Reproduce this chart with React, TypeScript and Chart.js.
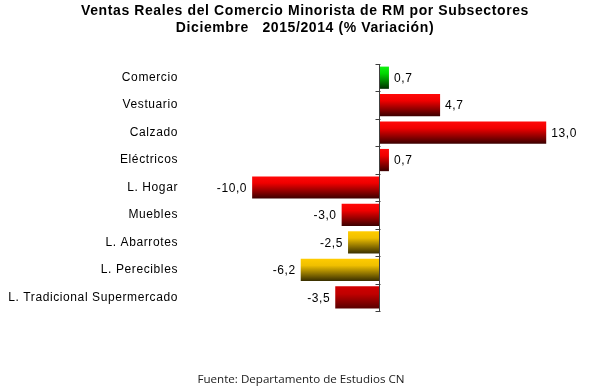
import React, { useEffect, useRef } from "react";
import { Chart, registerables } from "chart.js";

Chart.register(...registerables);

const categories = [
  "Comercio",
  "Vestuario",
  "Calzado",
  "Eléctricos",
  "L. Hogar",
  "Muebles",
  "L. Abarrotes",
  "L. Perecibles",
  "L. Tradicional Supermercado",
];
const values = [0.7, 4.7, 13.0, 0.7, -10.0, -3.0, -2.5, -6.2, -3.5];
const colorKinds = ["green", "red", "red", "red", "red", "red", "gold", "gold", "darkred"];
const titleLines = [
  "Ventas Reales del Comercio Minorista de RM por Subsectores",
  "Diciembre   2015/2014 (% Variación)",
];
const footerText = "Fuente: Departamento de Estudios CN";

const gradStops: Record<string, [number, string][]> = {
  green: [[0, "#10f010"], [0.3, "#00d800"], [1, "#003000"]],
  red: [[0, "#ff0808"], [0.3, "#f00000"], [1, "#3c0000"]],
  gold: [[0, "#ffcc00"], [0.3, "#f0c000"], [1, "#3a3000"]],
  darkred: [[0, "#d00000"], [0.35, "#c00000"], [1, "#5a0000"]],
};

const fmt = (v: number) => v.toFixed(1).replace(".", ",");

const decorPlugin = {
  id: "decor",
  beforeDraw(chart: any) {
    (chart.ctx as any).letterSpacing = "0.6px";
  },
  afterDatasetsDraw(chart: any) {
    const { ctx, chartArea, scales } = chart;
    const x0 = scales.x.getPixelForValue(0);
    const ys = scales.y;
    ctx.save();
    ctx.strokeStyle = "#404040";
    ctx.lineWidth = 1;
    ctx.beginPath();
    const xl = Math.round(x0) - 0.5;
    ctx.moveTo(xl, chartArea.top);
    ctx.lineTo(xl, chartArea.bottom);
    for (let i = 0; i <= categories.length; i++) {
      const y = Math.round(ys.getPixelForValue(i - 0.5)) + 0.5;
      ctx.moveTo(xl - 4, y);
      ctx.lineTo(xl + 1, y);
    }
    ctx.stroke();
    ctx.fillStyle = "#000";
    ctx.font = "12px 'Liberation Sans', Arial, sans-serif";
    (ctx as any).letterSpacing = "0.6px";
    ctx.textBaseline = "middle";
    const meta = chart.getDatasetMeta(0);
    meta.data.forEach((bar: any, i: number) => {
      const v = values[i];
      const txt = fmt(v);
      if (v >= 0) {
        ctx.textAlign = "left";
        ctx.fillText(txt, bar.x + 5, bar.y + 1);
      } else {
        ctx.textAlign = "right";
        ctx.fillText(txt, bar.x - 5, bar.y + 1);
      }
    });
    ctx.restore();
  },
  afterDraw(chart: any) {
    const { ctx } = chart;
    ctx.save();
    ctx.fillStyle = "#000";
    ctx.textAlign = "center";
    ctx.textBaseline = "middle";
    ctx.font = "bold 14px 'Liberation Sans', Arial, sans-serif";
    (ctx as any).letterSpacing = "0.6px";
    ctx.fillText(titleLines[0], 305, 11);
    ctx.fillText(titleLines[1], 305, 28);
    (ctx as any).letterSpacing = "0px";
    ctx.font = "11.6px 'Open Sans', sans-serif";
    ctx.fillStyle = "#202020";
    ctx.fillText(footerText, 301, 380);
    ctx.restore();
    (ctx as any).letterSpacing = "0px";
  },
};

export default function App() {
  const ref = useRef<HTMLCanvasElement>(null);
  useEffect(() => {
    if (!ref.current) return;
    const chart = new Chart(ref.current, {
      type: "bar",
      data: {
        labels: categories,
        datasets: [
          {
            data: values,
            borderWidth: 0,
            categoryPercentage: 1,
            barPercentage: 0.81,
            backgroundColor: (c: any) => {
              const ch = c.chart;
              const ys = ch.scales && ch.scales.y;
              const kind = colorKinds[c.dataIndex] || "red";
              if (!ys || !ch.chartArea) return "#e00000";
              const cy = ys.getPixelForValue(c.dataIndex);
              const h = 22;
              const g = ch.ctx.createLinearGradient(0, cy - h / 2, 0, cy + h / 2);
              gradStops[kind].forEach(([p, col]) => g.addColorStop(p, col));
              return g;
            },
          },
        ],
      },
      options: {
        indexAxis: "y",
        animation: false,
        responsive: false,
        maintainAspectRatio: false,
        layout: { padding: { top: 64, bottom: 81, left: 0, right: 30 } },
        plugins: {
          legend: { display: false },
          title: { display: false },
          tooltip: { enabled: false },
        },
        scales: {
          x: {
            display: false,
            min: -14,
            max: 14,
          },
          y: {
            grid: { display: false, drawTicks: false },
            border: { display: false },
            afterFit: (s: any) => {
              s.width = 201;
            },
            ticks: {
              padding: 23,
              color: "#000",
              font: { family: "'Liberation Sans', Arial, sans-serif", size: 12 },
            },
          },
        },
      },
      plugins: [decorPlugin],
    });
    return () => chart.destroy();
  }, []);
  return (
    <div style={{ position: "fixed", left: 0, top: 0, width: 589, height: 392, background: "#fff" }}>
      <canvas ref={ref} width={589} height={392} style={{ width: 589, height: 392 }} />
    </div>
  );
}
